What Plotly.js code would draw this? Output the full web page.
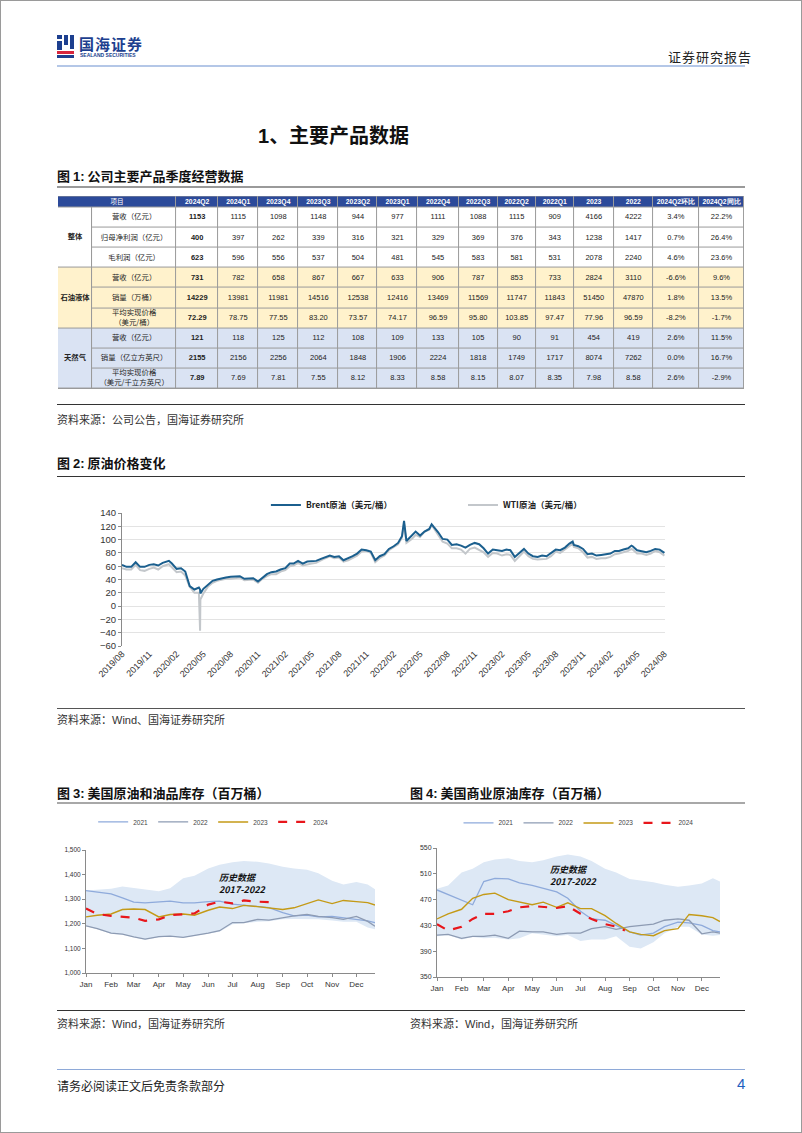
<!DOCTYPE html>
<html>
<head>
<meta charset="utf-8">
<script src="https://cdn.plot.ly/plotly-3.0.1.min.js"></script>
<style>
  html, body { margin:0; padding:0; background:#fff; }
  body { width:802px; height:1133px; position:relative; overflow:hidden; font-family:"Noto Sans CJK SC","Liberation Sans",sans-serif; }
  .abs { position:absolute; }
  .frame { left:0; top:0; width:800px; height:1131px; border:1px solid #9a9a9a; }
  .cap { font-size:13px; font-weight:bold; color:#111; white-space:nowrap; }
  .cap b { font-family:"Liberation Sans",sans-serif; }
  .src { font-size:11px; color:#333; white-space:nowrap; }
</style>
</head>
<body>
<div class="abs frame"></div>

<!-- header -->
<div class="abs" style="left:57px;top:35px;width:18px;height:23px;">
  <div class="abs" style="left:0;top:0;width:5px;height:4px;background:#1d3f8f"></div>
  <div class="abs" style="left:7px;top:0;width:4px;height:10px;background:#1d3f8f"></div>
  <div class="abs" style="left:13px;top:0;width:4px;height:14px;background:#1d3f8f"></div>
  <div class="abs" style="left:0;top:6px;width:5px;height:9px;background:#1d3f8f"></div>
  <div class="abs" style="left:0;top:16px;width:17px;height:3px;background:#d7263d"></div>
  <div class="abs" style="left:0;top:20px;width:17px;height:3px;background:#1d3f8f"></div>
</div>
<div class="abs" style="left:79px;top:33px;font-size:15px;font-weight:bold;color:#1d3f8f;letter-spacing:1px;white-space:nowrap;">国海证券</div>
<div class="abs" style="left:80px;top:52px;font-size:5px;font-weight:bold;color:#1d3f8f;font-family:'Liberation Sans';white-space:nowrap;">SEALAND SECURITIES</div>
<div class="abs" style="left:668px;top:47px;font-size:13px;color:#222;white-space:nowrap;letter-spacing:1px;">证券研究报告</div>
<div class="abs" style="left:57px;top:65px;width:688px;height:2px;background:#b4c7e7;"></div>

<!-- section title -->
<div class="abs" style="left:258px;top:120px;font-size:20px;font-weight:bold;color:#111;white-space:nowrap;"><span style="font-family:'Liberation Sans'">1</span>、主要产品数据</div>

<!-- fig 1 -->
<div class="abs cap" style="left:57px;top:166px;">图 <b>1:</b> 公司主要产品季度经营数据</div>
<div class="abs" style="left:57px;top:186px;width:688px;height:2px;background:#9a9a9a;"></div>
<div class="abs" id="tbl" style="left:58px;top:196px;width:686px;height:193px;"></div>
<div class="abs" style="left:57px;top:404px;width:688px;height:1px;background:#333;"></div>
<div class="abs src" style="left:57px;top:411px;">资料来源：公司公告，国海证券研究所</div>

<!-- fig 2 -->
<div class="abs cap" style="left:57px;top:453px;">图 <b>2:</b> 原油价格变化</div>
<div class="abs" style="left:57px;top:476px;width:688px;height:1px;background:#333;"></div>
<div class="abs" id="fig2" style="left:60px;top:490px;width:620px;height:210px;"></div>
<div class="abs" style="left:57px;top:708px;width:688px;height:1px;background:#555;"></div>
<div class="abs src" style="left:57px;top:711px;">资料来源：<span style="font-family:'Liberation Sans'">Wind</span>、国海证券研究所</div>

<!-- fig 3 & 4 -->
<div class="abs cap" style="left:57px;top:783px;">图 <b>3:</b> 美国原油和油品库存（百万桶）</div>
<div class="abs cap" style="left:410px;top:783px;">图 <b>4:</b> 美国商业原油库存（百万桶）</div>
<div class="abs" style="left:57px;top:802px;width:688px;height:2px;background:#a8a8a8;"></div>
<div class="abs" id="fig3" style="left:60px;top:805px;width:330px;height:195px;"></div>
<div class="abs" id="fig4" style="left:405px;top:805px;width:330px;height:195px;"></div>
<div class="abs" style="left:57px;top:1010px;width:688px;height:1px;background:#333;"></div>
<div class="abs src" style="left:57px;top:1015px;">资料来源：<span style="font-family:'Liberation Sans'">Wind</span>，国海证券研究所</div>
<div class="abs src" style="left:410px;top:1015px;">资料来源：<span style="font-family:'Liberation Sans'">Wind</span>，国海证券研究所</div>

<!-- footer -->
<div class="abs" style="left:57px;top:1069px;width:688px;height:1px;background:#8ea9d8;"></div>
<div class="abs" style="left:57px;top:1077px;font-size:12px;color:#222;white-space:nowrap;">请务必阅读正文后免责条款部分</div>
<div class="abs" style="left:737px;top:1075px;font-size:15px;color:#1f5fbf;font-family:'Liberation Sans';">4</div>

<script>
// ================= DATA =================
// Table (fig 1)
const tblHeadLabel = "项目";
const tblPeriods = ["2024Q2","2024Q1","2023Q4","2023Q3","2023Q2","2023Q1","2022Q4","2022Q3","2022Q2","2022Q1","2023","2022","2024Q2环比","2024Q2同比"];
const tblGroups = ["整体","石油液体","天然气"];
const tblItems = ["营收（亿元）","归母净利润（亿元）","毛利润（亿元）",
                  "营收（亿元）","销量（万桶）","平均实现价格<br>（美元/桶）",
                  "营收（亿元）","销量（亿立方英尺）","平均实现价格<br>（美元/千立方英尺）"];
const rowRevenue   = ["1153","1115","1098","1148","944","977","1111","1088","1115","909","4166","4222","3.4%","22.2%"];
const rowNetProfit = ["400","397","262","339","316","321","329","369","376","343","1238","1417","0.7%","26.4%"];
const rowGross     = ["623","596","556","537","504","481","545","583","581","531","2078","2240","4.6%","23.6%"];
const rowOilRev    = ["731","782","658","867","667","633","906","787","853","733","2824","3110","-6.6%","9.6%"];
const rowOilVol    = ["14229","13981","11981","14516","12538","12416","13469","11569","11747","11843","51450","47870","1.8%","13.5%"];
const rowOilPrice  = ["72.29","78.75","77.55","83.20","73.57","74.17","96.59","95.80","103.85","97.47","77.96","96.59","-8.2%","-1.7%"];
const rowGasRev    = ["121","118","125","112","108","109","133","105","90","91","454","419","2.6%","11.5%"];
const rowGasVol    = ["2155","2156","2256","2064","1848","1906","2224","1818","1749","1717","8074","7262","0.0%","16.7%"];
const rowGasPrice  = ["7.89","7.69","7.81","7.55","8.12","8.33","8.58","8.15","8.07","8.35","7.98","8.58","2.6%","-2.9%"];

// Fig 2: crude prices (USD/bbl)
const oilDates = ["2019-08-01","2019-08-16","2019-09-01","2019-09-16","2019-10-01","2019-10-16","2019-11-01","2019-11-16","2019-12-01","2019-12-16",
  "2020-01-06","2020-01-16","2020-02-01","2020-02-16","2020-03-01","2020-03-16","2020-04-01","2020-04-16","2020-04-20","2020-04-21","2020-05-01","2020-05-16",
  "2020-06-01","2020-06-16","2020-07-01","2020-07-16","2020-08-01","2020-08-16","2020-09-01","2020-09-16","2020-10-01","2020-10-16","2020-11-01","2020-11-16","2020-12-01","2020-12-16",
  "2021-01-01","2021-01-16","2021-02-01","2021-02-16","2021-03-01","2021-03-16","2021-04-01","2021-04-16","2021-05-01","2021-05-16","2021-06-01","2021-06-16",
  "2021-07-01","2021-07-16","2021-08-01","2021-08-16","2021-09-01","2021-09-16","2021-10-01","2021-10-16","2021-11-01","2021-11-16","2021-12-01","2021-12-16",
  "2022-01-01","2022-01-16","2022-02-01","2022-02-16","2022-03-01","2022-03-08","2022-03-16","2022-04-01","2022-04-16","2022-05-01","2022-05-16","2022-06-01","2022-06-09","2022-06-16",
  "2022-07-01","2022-07-16","2022-08-01","2022-08-16","2022-09-01","2022-09-16","2022-10-01","2022-10-16","2022-11-01","2022-11-16","2022-12-01","2022-12-16",
  "2023-01-01","2023-01-16","2023-02-01","2023-02-16","2023-03-01","2023-03-16","2023-04-01","2023-04-16","2023-05-01","2023-05-16","2023-06-01","2023-06-16",
  "2023-07-01","2023-07-16","2023-08-01","2023-08-16","2023-09-01","2023-09-16","2023-09-27","2023-10-01","2023-10-16","2023-11-01","2023-11-16","2023-12-01","2023-12-16",
  "2024-01-01","2024-01-16","2024-02-01","2024-02-16","2024-03-01","2024-03-16","2024-04-01","2024-04-12","2024-04-16","2024-05-01","2024-05-16","2024-06-01","2024-06-16",
  "2024-07-01","2024-07-16","2024-08-01"];
const brent = [62,59,59,66,59,59,62,63,61,65,
  68,64,56,57,52,30,25,28,25,19,26,32,
  38,40,42,43,44,45,45,41,41,42,37,43,48,51,
  52,55,57,64,64,68,64,67,67,68,71,74,
  76,74,75,69,72,75,79,85,84,82,69,75,
  78,86,90,95,105,128,98,105,112,106,112,116,123,119,
  111,101,100,92,93,91,88,92,95,93,87,79,
  85,84,83,85,84,74,80,86,79,75,74,76,
  75,80,85,84,88,94,97,92,90,86,78,79,76,
  77,78,79,83,83,85,87,91,90,84,83,81,83,
  86,85,80];
const wti = [57,55,55,62,54,53,56,58,55,60,
  63,58,51,52,46,29,20,20,-37,10,19,29,
  35,38,40,41,41,42,43,39,39,40,35,41,45,48,
  48,52,54,60,61,65,61,63,64,65,68,72,
  75,72,73,67,69,72,76,82,83,80,66,72,
  76,84,88,93,103,124,95,100,107,104,112,115,122,117,
  108,97,94,87,87,85,79,86,88,85,81,74,
  80,79,76,78,77,68,75,82,75,71,70,71,
  71,75,82,80,85,91,94,89,87,81,73,74,71,
  72,72,74,78,79,81,83,86,85,79,79,77,79,
  83,81,76];

// Fig 3 / Fig 4: seasonal inventories (million bbl), x = date within year
const seasonDates = ["2021-01-01","2021-01-15","2021-02-01","2021-02-15","2021-03-01","2021-03-15","2021-04-01","2021-04-15","2021-05-01","2021-05-15",
  "2021-06-01","2021-06-15","2021-07-01","2021-07-15","2021-08-01","2021-08-15","2021-09-01","2021-09-15","2021-10-01","2021-10-15",
  "2021-11-01","2021-11-15","2021-12-01","2021-12-15","2021-12-24"];
const dates2024a = ["2021-01-01","2021-01-15","2021-02-01","2021-02-15","2021-03-01","2021-03-15","2021-04-01","2021-04-15","2021-05-01","2021-05-15",
  "2021-06-01","2021-06-15","2021-07-01","2021-07-15","2021-08-01","2021-08-15","2021-08-22"];
const dates2024b = ["2021-01-01","2021-01-15","2021-02-01","2021-02-15","2021-03-01","2021-03-15","2021-04-01","2021-04-15","2021-05-01","2021-05-15",
  "2021-06-01","2021-06-15","2021-07-01","2021-07-15","2021-08-01","2021-08-15","2021-08-26"];

const totHistMax = [1335,1338,1342,1352,1345,1338,1332,1345,1385,1395,1425,1440,1450,1455,1452,1445,1432,1425,1420,1405,1375,1360,1370,1360,1340];
const totHistMin = [1190,1178,1160,1155,1145,1135,1145,1148,1143,1150,1160,1168,1198,1203,1208,1210,1218,1220,1220,1218,1213,1208,1208,1185,1178];
const tot2021 = [1335,1330,1322,1305,1288,1285,1290,1292,1285,1285,1290,1292,1280,1275,1272,1266,1245,1232,1235,1228,1230,1225,1220,1212,1205];
const tot2022 = [1192,1180,1162,1158,1147,1138,1148,1150,1145,1152,1162,1172,1205,1205,1218,1215,1225,1232,1238,1230,1225,1218,1230,1210,1190];
const tot2023 = [1228,1235,1240,1258,1260,1258,1228,1238,1240,1235,1255,1268,1262,1275,1270,1265,1258,1265,1282,1297,1282,1295,1290,1286,1276];
const tot2024 = [1262,1240,1232,1230,1225,1212,1218,1235,1238,1242,1278,1290,1283,1295,1290,1288,1278];

const comHistMax = [487,492,512,518,528,532,534,530,528,531,537,540,537,530,518,512,502,500,497,493,490,492,495,503,498];
const comHistMin = [413,415,408,412,410,411,408,410,418,416,413,415,406,408,408,413,397,394,404,418,428,428,416,414,415];
const com2021 = [485,478,470,462,498,503,502,496,492,488,482,472,452,440,438,430,420,415,418,428,435,434,430,422,420];
const com2022 = [415,416,410,413,413,415,410,421,420,420,416,418,418,425,428,424,428,430,432,438,440,438,417,420,418];
const com2023 = [440,448,455,472,478,480,470,466,462,466,458,465,456,456,445,433,420,416,414,422,425,447,445,442,436];
const com2024 = [432,422,428,440,448,448,452,458,460,459,457,460,448,440,432,428,422];

// ================= TABLE (heatmap bricks + text) =================
const colW = [34, 84, 42, 40, 40, 40, 39, 40, 41, 39, 38, 38, 40, 39, 46, 45];
const headH = 11, rowH = 20.1;
const tblRows = [rowRevenue,rowNetProfit,rowGross,rowOilRev,rowOilVol,rowOilPrice,rowGasRev,rowGasVol,rowGasPrice];
const rowGroupIdx = [0,0,0,1,1,1,2,2,2];

const xEdges = [0];
colW.forEach(w => xEdges.push(xEdges[xEdges.length - 1] + w));
const yEdges = [0, headH];
for (let r = 0; r < tblRows.length; r++) yEdges.push(yEdges[yEdges.length - 1] + rowH);
const totalW = xEdges[xEdges.length - 1], totalH = yEdges[yEdges.length - 1];

const tblScale = [[0, "#ffffff"], [1/3, "#fff2cc"], [2/3, "#dae3f3"], [1, "#2c4a9a"]];
const hmCommon = {type: "heatmap", colorscale: tblScale, zmin: 0, zmax: 3, showscale: false,
                  xgap: 1, ygap: 1, hoverinfo: "skip", zsmooth: false};
const headX = [0].concat(xEdges.slice(2));
const headTrace = Object.assign({}, hmCommon, {x: headX, y: [0, headH], z: [tblPeriods.map(() => 3).concat([3])]});
const grpY = [headH, headH + 3 * rowH, headH + 6 * rowH, headH + 9 * rowH];
const grpTrace = Object.assign({}, hmCommon, {x: [0, colW[0]], y: grpY, z: [[0], [1], [2]]});
const bodyX = xEdges.slice(1);
const bodyZ = rowGroupIdx.map(g => bodyX.slice(1).map(() => g));
const bodyTrace = Object.assign({}, hmCommon, {x: bodyX, y: yEdges.slice(1), z: bodyZ});

const tx = [], ty = [], tt = [], tfam = [], tsize = [], tcol = [];
function addText(x, y, t, fam, size, col) { tx.push(x); ty.push(y); tt.push(t); tfam.push(fam); tsize.push(size); tcol.push(col); }
addText((xEdges[0] + xEdges[2]) / 2, headH / 2, tblHeadLabel, "Noto Sans CJK SC", 6.5, "#ffffff");
tblPeriods.forEach((p, c) => addText((xEdges[c + 2] + xEdges[c + 3]) / 2, headH / 2, "<b>" + p + "</b>", "Liberation Sans", 6.8, "#ffffff"));
tblGroups.forEach((g, i) => addText(colW[0] / 2, (grpY[i] + grpY[i + 1]) / 2, "<b>" + g + "</b>", "Noto Sans CJK SC", 7.3, "#222222"));
tblItems.forEach((it, r) => addText((xEdges[1] + xEdges[2]) / 2, (yEdges[r + 1] + yEdges[r + 2]) / 2, it, "Noto Sans CJK SC", 7.4, "#222222"));
tblRows.forEach((row, r) => row.forEach((v, c) => addText((xEdges[c + 2] + xEdges[c + 3]) / 2, (yEdges[r + 1] + yEdges[r + 2]) / 2,
  c === 0 ? "<b>" + v + "</b>" : v, "Liberation Sans", 7.5, "#222222")));
const textTrace = {type: "scatter", mode: "text", x: tx, y: ty, text: tt, textposition: "middle center",
  textfont: {family: tfam, size: tsize, color: tcol}, hoverinfo: "skip", cliponaxis: false, showlegend: false};

Plotly.newPlot("tbl", [headTrace, grpTrace, bodyTrace, textTrace], {
  width: 686, height: 193,
  margin: {l: 0, r: 0, t: 0, b: 0},
  paper_bgcolor: "rgba(0,0,0,0)", plot_bgcolor: "#9a9a9a",
  xaxis: {range: [0, totalW], visible: false, fixedrange: true},
  yaxis: {range: [totalH + 0.5, -0.5], visible: false, fixedrange: true},
  showlegend: false
}, {displayModeBar: false, staticPlot: true});

// ================= FIG 2 =================
Plotly.newPlot("fig2", [
  {x: oilDates, y: wti, type: "scatter", mode: "lines", name: "WTI原油（美元/桶）",
   line: {color: "#c3c7cb", width: 2}, legend: "legend2"},
  {x: oilDates, y: brent, type: "scatter", mode: "lines", name: "Brent原油（美元/桶）",
   line: {color: "#1b5f8e", width: 2}, legend: "legend"}
], {
  width: 620, height: 210,
  margin: {l: 62, r: 15, t: 23, b: 54, autoexpand: false},
  paper_bgcolor: "#ffffff", plot_bgcolor: "#ffffff",
  font: {family: "Liberation Sans", color: "#333"},
  showlegend: true,
  legend: {x: 0.265, xanchor: "left", y: 0.929, yref: "container", yanchor: "middle", orientation: "h",
           font: {family: "Noto Sans CJK SC", size: 8.5, weight: "bold", color: "#222"}, bgcolor: "rgba(0,0,0,0)"},
  legend2: {x: 0.628, xanchor: "left", y: 0.929, yref: "container", yanchor: "middle", orientation: "h",
           font: {family: "Noto Sans CJK SC", size: 8.5, weight: "bold", color: "#222"}, bgcolor: "rgba(0,0,0,0)"},
  xaxis: {type: "date", range: ["2019-08-01", "2024-08-03"], tick0: "2019-08-01", dtick: "M3",
          tickformat: "%Y/%m", tickangle: -45, showgrid: false, showline: false, ticks: "",
          tickfont: {size: 9, color: "#333"}, zeroline: false},
  xaxis2: {type: "date", overlaying: "x", anchor: "free", position: 0.3, side: "bottom",
           range: ["2019-08-01", "2024-08-03"], tick0: "2019-08-01", dtick: "M3",
           showticklabels: false, showline: true, linecolor: "#555", linewidth: 1.2,
           ticks: "outside", ticklen: 4, tickcolor: "#555", showgrid: false, zeroline: false},
  yaxis: {range: [-60, 140], dtick: 20, showgrid: true, gridcolor: "#e3e3e3", zeroline: false,
          showline: true, linecolor: "#8a8a8a", ticks: "outside", ticklen: 3, tickcolor: "#8a8a8a",
          tickfont: {size: 9.5, color: "#333"}}
}, {displayModeBar: false, staticPlot: true});

// ================= FIG 3 / FIG 4 =================
function seasonal(div, histMin, histMax, y21, y22, y23, y24, d24, yRange, yTick0, yDtick, yFmt, margin, legX, legY, annX, annY, tickFont) {
  Plotly.newPlot(div, [
    {x: seasonDates, y: histMin, type: "scatter", mode: "lines", line: {width: 0, color: "rgba(0,0,0,0)"},
     showlegend: false, hoverinfo: "skip"},
    {x: seasonDates, y: histMax, type: "scatter", mode: "lines", line: {width: 0, color: "rgba(0,0,0,0)"},
     fill: "tonexty", fillcolor: "#dde8f5", showlegend: false, hoverinfo: "skip"},
    {x: seasonDates, y: y21, type: "scatter", mode: "lines", name: "2021", line: {color: "#8eaadb", width: 1.3}},
    {x: seasonDates, y: y22, type: "scatter", mode: "lines", name: "2022", line: {color: "#8d9bb3", width: 1.3}},
    {x: seasonDates, y: y23, type: "scatter", mode: "lines", name: "2023", line: {color: "#c49a16", width: 1.4}},
    {x: d24, y: y24, type: "scatter", mode: "lines", name: "2024", line: {color: "#e8161b", width: 2.2, dash: "dash"}}
  ], {
    width: 330, height: 195,
    margin: Object.assign({autoexpand: false}, margin),
    paper_bgcolor: "#ffffff", plot_bgcolor: "#ffffff",
    font: {family: "Liberation Sans", color: "#333"},
    legend: {orientation: "h", traceorder: "normal", x: legX, xanchor: "center", y: legY, yref: "container", yanchor: "middle",
             font: {size: 6.5, color: "#444"}, entrywidth: 15, entrywidthmode: "pixels", bgcolor: "rgba(0,0,0,0)"},
    xaxis: {type: "date", range: ["2021-01-01", "2021-12-24"], dtick: "M1", tick0: "2021-01-01", tickformat: "%b",
            showgrid: false, showline: true, linecolor: "#8a8a8a", ticks: "outside", ticklen: 3, tickcolor: "#8a8a8a",
            tickfont: {size: 8, color: "#333"}},
    yaxis: {range: yRange, tick0: yTick0, dtick: yDtick, tickformat: yFmt, showgrid: false, zeroline: false,
            showline: true, linecolor: "#8a8a8a", ticks: "outside", ticklen: 3, tickcolor: "#8a8a8a",
            tickfont: {size: tickFont, color: "#333"}},
    annotations: [{x: annX, y: annY, xref: "x", yref: "y", showarrow: false,
      text: "<i><b>历史数据</b></i><br><i><b>2017-2022</b></i>", align: "left",
      font: {family: "Noto Sans CJK SC", size: 9, color: "#111"}}]
  }, {displayModeBar: false, staticPlot: true});
}
seasonal("fig3", totHistMin, totHistMax, tot2021, tot2022, tot2023, tot2024, dates2024a,
  [1000, 1500], 1000, 100, ",", {l: 26, r: 15, t: 45, b: 27}, 0.44, 0.913, "2021-07-14", 1362, 6.5);
seasonal("fig4", comHistMin, comHistMax, com2021, com2022, com2023, com2024, dates2024b,
  [350, 550], 350, 40, "", {l: 32, r: 15, t: 43, b: 23}, 0.50, 0.908, "2021-06-23", 508, 7);
</script>
</body>
</html>
